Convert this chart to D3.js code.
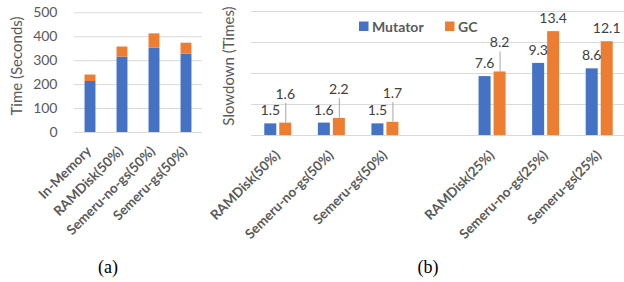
<!DOCTYPE html>
<meta charset="utf-8">
<script src="https://d3js.org/d3.v7.min.js"></script>
<style>
body { margin: 0; background: #fff; }
text { font-family: Lato, "Open Sans", sans-serif; }
.grade line { stroke: #d9d9d9; stroke-width: 1; }
.grade text { fill: #595959; font-size: 14px; }
.rotulo text { fill: #595959; font-size: 13.5px; font-weight: bold; }
.titulo { fill: #595959; font-size: 15px; }
.valor { fill: #404040; font-size: 14px; }
.legenda { fill: #595959; font-size: 14px; font-weight: bold; }
.letra { font-family: "Liberation Serif", serif; font-size: 18px; fill: #000; }
</style>
<body>
<div id="canvas"></div>
<script>
// (a) tempo total, barras empilhadas
var categoriasA = ["In-Memory", "RAMDisk(50%)", "Semeru-no-gs(50%)", "Semeru-gs(50%)"];
var mutatorA = [213, 315, 352, 327];
var gcA = [27, 42, 60, 46];
var ticksA = [0, 100, 200, 300, 400, 500];

// (b) slowdown, barras agrupadas (categoria vazia no meio)
var categoriasB = ["RAMDisk(50%)", "Semeru-no-gs(50%)", "Semeru-gs(50%)", "", "RAMDisk(25%)", "Semeru-no-gs(25%)", "Semeru-gs(25%)"];
var mutatorB = [1.5, 1.6, 1.5, null, 7.6, 9.3, 8.6];
var gcB = [1.6, 2.2, 1.7, null, 8.2, 13.4, 12.1];
var ticksB = [0, 4, 8, 12, 16];

var series = ["Mutator", "GC"];
var cores = ["#4472c4", "#ed7d31"];

var svg = d3.select('#canvas')
    .append("svg")
    .attr("width", 624)
    .attr("height", 282)
    .style("display", "block");

// ---------------- grafico (a) ----------------
var xA = d3.scaleBand()
    .domain(categoriasA)
    .range([74, 202])
    .paddingInner(0.66)
    .paddingOuter(0.33);
var yA = d3.scaleLinear()
    .domain([0, 500])
    .range([132, 12.3]);

// grade + rotulos do eixo y
svg.append("g")
    .attr("class", "grade")
    .attr("transform", "translate(74,0)")
    .call(d3.axisLeft(yA).tickValues(ticksA).tickSize(-128).tickPadding(16.5))
    .call(function(g) { g.select(".domain").remove(); });

var dadosA = categoriasA.map(function(c, i) { return {cat: c, m: mutatorA[i], gc: gcA[i]}; });

svg.append("g").selectAll("rect")
    .data(dadosA)
    .enter()
    .append("rect")
    .attr("x", function(d) { return xA(d.cat); })
    .attr("width", xA.bandwidth())
    .attr("y", function(d) { return yA(d.m); })
    .attr("height", function(d) { return yA(0) - yA(d.m); })
    .attr("fill", cores[0]);

svg.append("g").selectAll("rect")
    .data(dadosA)
    .enter()
    .append("rect")
    .attr("x", function(d) { return xA(d.cat); })
    .attr("width", xA.bandwidth())
    .attr("y", function(d) { return yA(d.m + d.gc); })
    .attr("height", function(d) { return yA(d.m) - yA(d.m + d.gc); })
    .attr("fill", cores[1]);

// eixo x com rotulos inclinados
svg.append("g")
    .attr("class", "rotulo")
    .attr("transform", "translate(0,132)")
    .call(d3.axisBottom(xA).tickSize(0))
    .call(function(g) {
        g.select(".domain").remove();
        g.selectAll("text")
            .attr("y", 0).attr("dy", 0)
            .style("text-anchor", "end")
            .attr("transform", "translate(2,20) rotate(-45)");
    });

svg.append("text")
    .attr("class", "titulo")
    .attr("transform", "translate(22,66) rotate(-90)")
    .attr("text-anchor", "middle")
    .text("Time (Seconds)");

svg.append("text")
    .attr("class", "letra")
    .attr("x", 108).attr("y", 273)
    .attr("text-anchor", "middle")
    .text("(a)");

// ---------------- grafico (b) ----------------
var xB = d3.scaleBand()
    .domain(categoriasB)
    .range([251, 626]);
var xB1 = d3.scaleBand()
    .domain(series)
    .range([0, 27])
    .paddingInner(0.2);
var yB = d3.scaleLinear()
    .domain([0, 16])
    .range([135, 11]);

svg.append("g")
    .attr("class", "grade")
    .attr("transform", "translate(251,0)")
    .call(d3.axisLeft(yB).tickValues(ticksB).tickSize(-380).tickFormat(""))
    .call(function(g) { g.select(".domain").remove(); });

var dadosB = categoriasB.map(function(c, i) { return {cat: c, v: [mutatorB[i], gcB[i]]}; })
    .filter(function(d) { return d.v[0] != null; });

var grupos = svg.append("g").selectAll("g")
    .data(dadosB)
    .enter()
    .append("g")
    .attr("transform", function(d) { return "translate(" + (xB(d.cat) + xB.bandwidth() / 2 - 13.5) + ",0)"; });

grupos.selectAll("rect")
    .data(function(d) { return series.map(function(s, j) { return {s: s, v: d.v[j], j: j}; }); })
    .enter()
    .append("rect")
    .attr("x", function(d) { return xB1(d.s); })
    .attr("width", xB1.bandwidth())
    .attr("y", function(d) { return yB(d.v); })
    .attr("height", function(d) { return yB(0) - yB(d.v); })
    .attr("fill", function(d) { return cores[d.j]; });

// rotulos de valor; o do GC sobe quando bate no do Mutator
grupos.each(function(d) {
    var g = d3.select(this);
    var cm = xB1("Mutator") + xB1.bandwidth() / 2;
    var cg = xB1("GC") + xB1.bandwidth() / 2;
    var ym = yB(d.v[0]) - 13;
    var yg = yB(d.v[1]) - 13;
    var puxa = Math.abs(yg - ym) < 14;
    if (puxa) {
        yg = yg - 16;
        g.append("line")
            .attr("x1", cg + 0.5).attr("x2", cg + 0.5)
            .attr("y1", yg + 9).attr("y2", yB(d.v[1]))
            .attr("stroke", "#a6a6a6").attr("stroke-width", 1);
    }
    g.append("text").attr("class", "valor")
        .attr("x", cm).attr("y", ym + 5)
        .attr("text-anchor", "middle").text(d3.format(".1f")(d.v[0]));
    g.append("text").attr("class", "valor")
        .attr("x", cg).attr("y", yg + 5)
        .attr("text-anchor", "middle").text(d3.format(".1f")(d.v[1]));
});

svg.append("g")
    .attr("class", "rotulo")
    .attr("transform", "translate(0,135)")
    .call(d3.axisBottom(xB).tickSize(0))
    .call(function(g) {
        g.select(".domain").remove();
        g.selectAll("text")
            .attr("y", 0).attr("dy", 0)
            .style("text-anchor", "end")
            .attr("transform", "translate(3,21) rotate(-45)");
    });

svg.append("text")
    .attr("class", "titulo")
    .attr("transform", "translate(234,66) rotate(-90)")
    .attr("text-anchor", "middle")
    .text("Slowdown (Times)");

// legenda
var legX = [359, 445];
var leg = svg.append("g").selectAll("g")
    .data(series)
    .enter()
    .append("g")
    .attr("transform", function(d, i) { return "translate(" + legX[i] + ",21.5)"; });
leg.append("rect")
    .attr("width", 9.5).attr("height", 9.5)
    .attr("fill", function(d, i) { return cores[i]; });
leg.append("text")
    .attr("class", "legenda")
    .attr("x", 13).attr("y", 10)
    .text(function(d) { return d; });

svg.append("text")
    .attr("class", "letra")
    .attr("x", 428).attr("y", 273)
    .attr("text-anchor", "middle")
    .text("(b)");
</script>
</body>
